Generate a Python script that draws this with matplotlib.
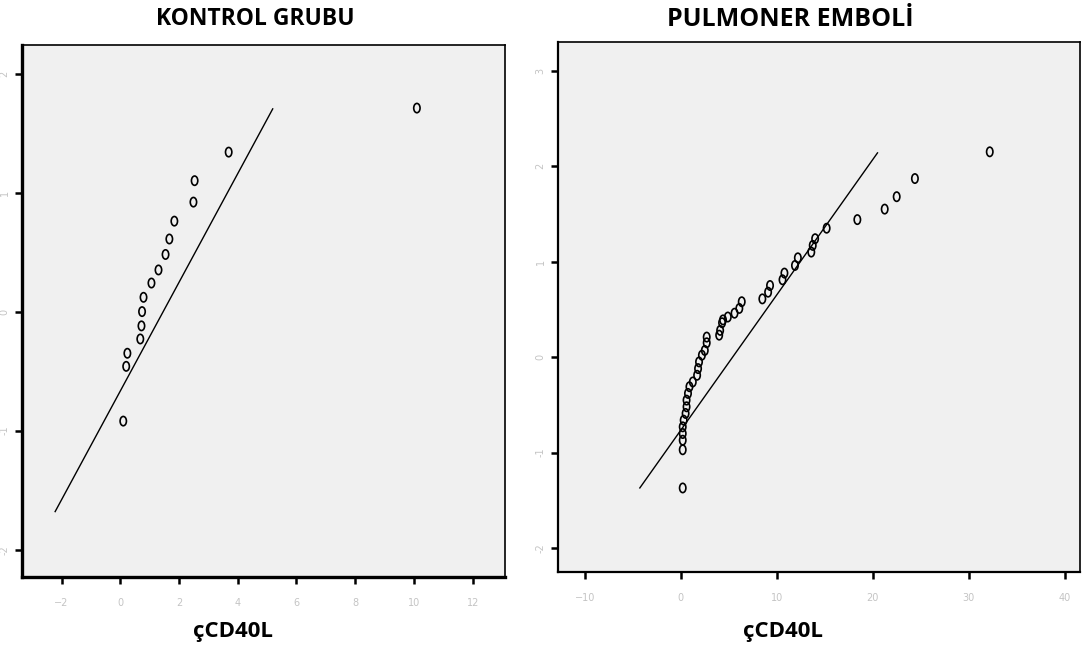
import numpy as np
import matplotlib.pyplot as plt
from matplotlib.path import Path

kontrol_obs = [0.10, 0.20, 0.24, 0.68, 0.72, 0.74, 0.79, 1.06, 1.30, 1.54, 1.67, 1.84, 2.49, 2.53, 3.69, 10.1]
kontrol_exp = [-0.92, -0.46, -0.35, -0.23, -0.12, 0.0, 0.12, 0.24, 0.35, 0.48, 0.61, 0.76, 0.92, 1.10, 1.34, 1.71]
kontrol_mean, kontrol_sd = 1.46, 2.19
kontrol_line_x = [-2.22, 5.19]

pe_obs = [0.2, 0.2, 0.2, 0.2, 0.2, 0.3, 0.5, 0.6, 0.6, 0.75, 0.9, 1.25, 1.7, 1.8, 1.9,
          2.2, 2.5, 2.7, 2.7, 4.0, 4.1, 4.3, 4.4, 4.9, 5.6, 6.1, 6.35, 8.5, 9.1, 9.3,
          10.6, 10.8, 11.9, 12.2, 13.6, 13.75, 14.0, 15.2, 18.4, 21.25, 22.5, 24.4, 32.2]
pe_exp = [-1.37, -0.97, -0.87, -0.80, -0.73, -0.66, -0.59, -0.52, -0.45, -0.38, -0.31, -0.26, -0.19, -0.12, -0.05,
          0.02, 0.07, 0.15, 0.21, 0.23, 0.28, 0.36, 0.39, 0.42, 0.46, 0.51, 0.58, 0.61, 0.68, 0.75,
          0.81, 0.88, 0.96, 1.04, 1.10, 1.17, 1.24, 1.35, 1.44, 1.55, 1.68, 1.87, 2.15]
pe_mean, pe_sd = 5.4, 7.06
pe_line_x = [-4.27, 20.5]

kontrol_xticks = [-2, 0, 2, 4, 6, 8, 10, 12]
kontrol_yticks = [-2, -1, 0, 1, 2]
pe_xticks = [-10, 0, 10, 20, 30, 40]
pe_yticks = [-2, -1, 0, 1, 2, 3]

# upright oval marker like the old SPSS output
circ = Path.unit_circle()
oval = Path(circ.vertices * [0.68, 1.0], circ.codes)

fig = plt.figure(figsize=(10.82, 6.52), dpi=100)
ax1 = fig.add_axes([0.0203, 0.1150, 0.4464, 0.816])
ax2 = fig.add_axes([0.5157, 0.1227, 0.4824, 0.8129])

panels = [
    (ax1, kontrol_obs, kontrol_exp, kontrol_mean, kontrol_sd, kontrol_line_x,
     kontrol_xticks, kontrol_yticks, (-3.35, 13.1), (-2.23, 2.24), 2.4),
    (ax2, pe_obs, pe_exp, pe_mean, pe_sd, pe_line_x,
     pe_xticks, pe_yticks, (-12.8, 41.6), (-2.25, 3.3), 1.6),
]

for ax, obs, exp, mu, sd, lx, xt, yt, xl, yl, lw in panels:
    ax.set_facecolor('#f0f0f0')
    lx = np.array(lx)
    ax.plot(lx, (lx - mu) / sd, color='black', lw=1.0)
    ax.scatter(obs, exp, s=45, marker=oval, facecolors='none', edgecolors='black',
               linewidths=1.2, zorder=3)
    ax.set_xlim(*xl)
    ax.set_ylim(*yl)
    ax.set_xticks(xt)
    ax.set_yticks(yt)
    ax.set_yticklabels([str(v) for v in yt], rotation=90, va='center')
    ax.tick_params(direction='out', length=5, width=1.8, colors='black',
                   labelcolor='#c4c4c4', labelsize=7)
    ax.tick_params(axis='x', pad=10)
    ax.tick_params(axis='y', pad=4)
    for side in ['left', 'bottom']:
        ax.spines[side].set_linewidth(lw)
    for side in ['top', 'right']:
        ax.spines[side].set_linewidth(1.2)

title_kw = dict(fontweight='bold', family='Open Sans', ha='center', va='center')
fig.text(255 / 1082, 1 - 19 / 652, 'KONTROL GRUBU', fontsize=16.5, **title_kw)
fig.text(790 / 1082, 1 - 19 / 652, 'PULMONER EMBOLİ', fontsize=18, **title_kw)
fig.text(233 / 1082, 1 - 632 / 652, 'çCD40L', fontsize=16, **title_kw)
fig.text(783 / 1082, 1 - 632 / 652, 'çCD40L', fontsize=16, **title_kw)

fig.savefig('out.png', dpi=100, facecolor='white')
